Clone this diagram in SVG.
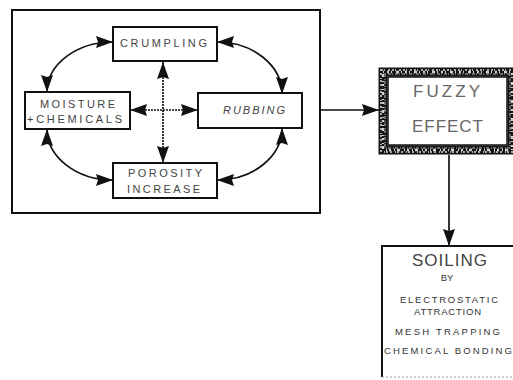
<svg xmlns="http://www.w3.org/2000/svg" width="513" height="380" viewBox="0 0 513 380">
<defs>
<marker id="ah" viewBox="0 0 17 12" refX="17" refY="6" markerWidth="17" markerHeight="12" markerUnits="userSpaceOnUse" orient="auto-start-reverse">
<path d="M0,0 L17,6 L0,12 L2,6 z" fill="#111"/>
</marker>
</defs>
<style>
.box{fill:#fff;stroke:#111;stroke-width:2}
.frame{fill:none;stroke:#111;stroke-width:2}
.t{font-family:"Liberation Sans",Arial,sans-serif;fill:#444;text-anchor:middle;font-size:11px}
.big{font-size:17px;fill:#666}
.s{font-size:9.5px;fill:#333}
.conn{fill:none;stroke:#111;stroke-width:1.7}
.dot{stroke-dasharray:2 1}
</style>
<rect class="frame" x="12" y="10" width="308" height="203"/>
<g id="connectors">
<path class="conn" d="M47,92 A66,50 0 0 1 113,42" marker-start="url(#ah)" marker-end="url(#ah)"/>
<path class="conn" d="M217,42 A65,52 0 0 1 282,94" marker-start="url(#ah)" marker-end="url(#ah)"/>
<path class="conn" d="M282,128 A65,52 0 0 1 217,180" marker-start="url(#ah)" marker-end="url(#ah)"/>
<path class="conn" d="M47,129 A66,51 0 0 0 113,180" marker-start="url(#ah)" marker-end="url(#ah)"/>
<path class="conn dot" d="M163,62 L163,163" marker-start="url(#ah)" marker-end="url(#ah)"/>
<path class="conn dot" d="M130,110 L198,110" marker-start="url(#ah)" marker-end="url(#ah)"/>
<path class="conn" d="M320,110 L379,110" marker-end="url(#ah)"/>
<path class="conn" d="M449,155 L449,246" marker-end="url(#ah)"/>
</g>
<g id="crumpling">
<rect class="box" x="113" y="27" width="104" height="34"/>
<text class="t" x="163.5" y="47" textLength="87" lengthAdjust="spacing">CRUMPLING</text>
</g>
<g id="moisture">
<rect class="box" x="25" y="92" width="105" height="37"/>
<text class="t" x="77.5" y="108" textLength="75" lengthAdjust="spacing">MOISTURE</text>
<text class="t" x="74.5" y="123" textLength="95" lengthAdjust="spacing">+CHEMICALS</text>
</g>
<g id="rubbing">
<rect class="box" x="198" y="93" width="104" height="35"/>
<text class="t" x="254" y="114" textLength="62" lengthAdjust="spacing" font-style="italic">RUBBING</text>
</g>
<g id="porosity">
<rect class="box" x="113" y="163" width="104" height="35"/>
<text class="t" x="165" y="177" textLength="74" lengthAdjust="spacing">POROSITY</text>
<text class="t" x="163.5" y="193" textLength="73" lengthAdjust="spacing">INCREASE</text>
</g>
<g id="fuzzy">
<rect x="383" y="72" width="129" height="78" fill="#fff" stroke="#151515" stroke-width="9"/>
<rect x="383" y="72" width="129" height="78" fill="none" stroke="#fff" stroke-width="2.5" stroke-dasharray="1 3 2 2 1 4 3 2" opacity="0.8"/>
<rect x="381" y="70" width="133" height="82" fill="none" stroke="#aaa" stroke-width="2" stroke-dasharray="2 1 1 3 2 2"/>
<rect x="385" y="74" width="125" height="74" fill="none" stroke="#888" stroke-width="1.5" stroke-dasharray="1 2 3 1"/>
<rect x="388" y="77" width="119" height="68" fill="none" stroke="#111" stroke-width="1.5"/>
<text class="t big" x="446.5" y="97" textLength="67" lengthAdjust="spacing">FUZZY</text>
<text class="t big" x="447.5" y="132" textLength="71" lengthAdjust="spacing" font-size="19px">EFFECT</text>
</g>
<g id="soiling">
<path d="M382,377 L382,246 L515,246" fill="none" stroke="#111" stroke-width="2"/>
<path d="M382,377 L515,377" fill="none" stroke="#999" stroke-width="1" stroke-dasharray="2 2"/>
<text class="t big" x="449.5" y="266" textLength="75" lengthAdjust="spacing" style="fill:#444">SOILING</text>
<text class="t s" x="447" y="281" font-size="8px">BY</text>
<text class="t s" x="449" y="303" textLength="98" lengthAdjust="spacing">ELECTROSTATIC</text>
<text class="t s" x="447.5" y="315" textLength="67" lengthAdjust="spacing">ATTRACTION</text>
<text class="t s" x="447.5" y="335" textLength="105" lengthAdjust="spacing">MESH TRAPPING</text>
<text class="t s" x="448" y="354" textLength="128" lengthAdjust="spacing">CHEMICAL BONDING</text>
</g>
</svg>
